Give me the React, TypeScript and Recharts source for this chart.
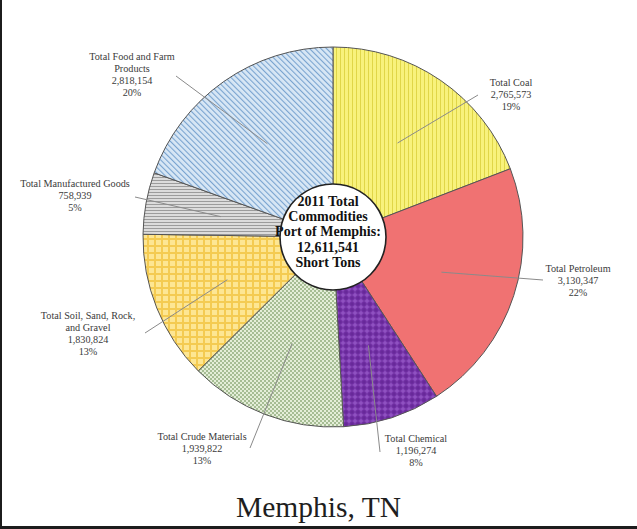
import React from 'react';
import { PieChart, Pie, Cell, Label } from 'recharts';

// ---- data ----
const categories = [
  'Total Coal',
  'Total Petroleum',
  'Total Chemical',
  'Total Crude Materials',
  'Total Soil, Sand, Rock,\nand Gravel',
  'Total Manufactured Goods',
  'Total Food and Farm\nProducts',
];
const values = [2765573, 3130347, 1196274, 1939822, 1830824, 758939, 2818154];
const percentLabels = ['19%', '22%', '8%', '13%', '13%', '5%', '20%'];
const centerLines = ['2011 Total', 'Commodities', 'Port of Memphis:', '12,611,541', 'Short Tons'];
const titleText = 'Memphis, TN';

// ---- styles / layout ----
const fills = [
  'url(#pCoal)',
  '#f07272',
  'url(#pChem)',
  'url(#pCrude)',
  'url(#pSoil)',
  'url(#pManu)',
  'url(#pFood)',
];
const CX = 328;
const CY = 232;
const R = 190;
const CENTER_R = 53;
// label block centre and leader end, offsets from pie centre
const labelLayout = [
  { tx: 178, ty: -141, ex: 145, ey: -142 },
  { tx: 245, ty: 45, ex: 210, ey: 43 },
  { tx: 83, ty: 215, ex: 47, ey: 215 },
  { tx: -131, ty: 213, ex: -83, ey: 211 },
  { tx: -245, ty: 98, ex: -188, ey: 96 },
  { tx: -258, ty: -40, ex: -198, ey: -40 },
  { tx: -201, ty: -161, ex: -157, ey: -161 },
];

const data = categories.map((name, i) => ({ name, value: values[i] }));
const fmt = (v: number) => v.toLocaleString('en-US');

const RAD = Math.PI / 180;

const renderLabel = (props: any) => {
  const { cx, cy, midAngle, outerRadius, index } = props;
  const r = outerRadius * 0.6;
  const sx = cx + r * Math.cos(-midAngle * RAD);
  const sy = cy + r * Math.sin(-midAngle * RAD);
  const L = labelLayout[index];
  const lines = [...categories[index].split('\n'), fmt(values[index]), percentLabels[index]];
  const lh = 12;
  const tx = cx + L.tx;
  const ty = cy + L.ty;
  return (
    <g>
      <polyline
        points={`${sx},${sy} ${cx + L.ex},${cy + L.ey}`}
        fill="none"
        stroke="#8a8a8a"
        strokeWidth={1}
      />
      <text
        x={tx}
        y={ty}
        textAnchor="middle"
        fontFamily="'Liberation Serif', 'Times New Roman', serif"
        fontSize={10.2}
        fill="#3a3a3a"
      >
        {lines.map((ln, i) => (
          <tspan key={i} x={tx} y={ty + (i - (lines.length - 1) / 2) * lh} dominantBaseline="middle">
            {ln}
          </tspan>
        ))}
      </text>
    </g>
  );
};

const renderCenter = (props: any) => {
  const vb = props.viewBox || {};
  const cx = vb.cx ?? CX;
  const cy = vb.cy ?? CY;
  const lh = 15.3;
  return (
    <text
      x={cx}
      y={cy}
      textAnchor="middle"
      fontFamily="'Liberation Serif', 'Times New Roman', serif"
      fontWeight="bold"
      fontSize={14}
      fill="#111"
    >
      {centerLines.map((ln, i) => (
        <tspan key={i} x={cx} y={cy + 1 + (i - (centerLines.length - 1) / 2) * lh} dominantBaseline="middle">
          {ln}
        </tspan>
      ))}
    </text>
  );
};

export default function App() {
  return (
    <div
      style={{
        position: 'absolute',
        left: 0,
        top: 0,
        width: 637,
        height: 529,
        background: '#fff',
        overflow: 'hidden',
      }}
    >
      <div style={{ position: 'absolute', left: 0, top: 0 }}>
        <PieChart width={637} height={480}>
          <defs>
            <pattern id="pCoal" width="4" height="4" patternUnits="userSpaceOnUse">
              <rect width="4" height="4" fill="#f8f27c" />
              <line x1="0.5" y1="0" x2="0.5" y2="4" stroke="#e0d648" strokeWidth="1" />
            </pattern>
            <pattern id="pChem" width="6" height="6" patternUnits="userSpaceOnUse">
              <rect width="6" height="6" fill="#7532a8" />
              <line x1="0" y1="1" x2="6" y2="1" stroke="#9456c6" strokeWidth="1.2" />
              <line x1="1" y1="0" x2="1" y2="6" stroke="#9456c6" strokeWidth="1.2" />
              <line x1="0" y1="4" x2="6" y2="4" stroke="#5e2290" strokeWidth="0.8" />
              <line x1="4" y1="0" x2="4" y2="6" stroke="#5e2290" strokeWidth="0.8" />
            </pattern>
            <pattern id="pCrude" width="4" height="4" patternUnits="userSpaceOnUse">
              <rect width="4" height="4" fill="#e4eed8" />
              <rect x="0" y="0" width="2" height="2" fill="#a6bd94" />
              <rect x="2" y="2" width="2" height="2" fill="#a6bd94" />
            </pattern>
            <pattern id="pSoil" width="7" height="7" patternUnits="userSpaceOnUse">
              <rect width="7" height="7" fill="#fde693" />
              <line x1="0" y1="1" x2="7" y2="1" stroke="#f4cb52" strokeWidth="2" />
              <line x1="1" y1="0" x2="1" y2="7" stroke="#f4cb52" strokeWidth="2" />
            </pattern>
            <pattern id="pManu" width="3" height="3" patternUnits="userSpaceOnUse">
              <rect width="3" height="3" fill="#dcdcdc" />
              <line x1="0" y1="0.5" x2="3" y2="0.5" stroke="#9c9c9c" strokeWidth="1" />
            </pattern>
            <pattern id="pFood" width="4" height="4" patternUnits="userSpaceOnUse" patternTransform="rotate(-45)">
              <rect width="4" height="4" fill="#d8e7f5" />
              <line x1="0.5" y1="0" x2="0.5" y2="4" stroke="#7aa4d0" strokeWidth="1.2" />
            </pattern>
          </defs>
          <Pie
            data={data}
            dataKey="value"
            nameKey="name"
            cx={CX}
            cy={CY}
            outerRadius={R}
            innerRadius={0}
            startAngle={90}
            endAngle={-270}
            stroke="#555"
            strokeWidth={1}
            label={renderLabel}
            labelLine={false}
            isAnimationActive={false}
          >
            {data.map((d, i) => (
              <Cell key={d.name} fill={fills[i]} />
            ))}
          </Pie>
          <Pie
            data={[{ name: 'total', value: 1 }]}
            dataKey="value"
            cx={CX}
            cy={CY}
            outerRadius={CENTER_R}
            innerRadius={0}
            fill="#ffffff"
            stroke="none"
            isAnimationActive={false}
          >
            <Label position="center" content={renderCenter} />
          </Pie>
          <Pie
            data={[{ name: 'ring', value: 1 }]}
            dataKey="value"
            cx={CX}
            cy={CY}
            outerRadius={CENTER_R + 0.8}
            innerRadius={CENTER_R - 0.8}
            fill="#222"
            stroke="none"
            isAnimationActive={false}
          />
        </PieChart>
      </div>
      <div
        style={{
          position: 'absolute',
          left: 0,
          width: 637,
          top: 490,
          textAlign: 'center',
          fontFamily: "'Liberation Serif', 'Times New Roman', serif",
          fontSize: 29.5,
          lineHeight: '34px',
          color: '#1e1e1e',
        }}
      >
        {titleText}
      </div>
      <div style={{ position: 'absolute', left: 0, top: 0, width: 2, height: 529, background: '#1c1c1c' }} />
      <div style={{ position: 'absolute', left: 0, bottom: 0, width: 637, height: 3, background: '#1c1c1c' }} />
    </div>
  );
}
